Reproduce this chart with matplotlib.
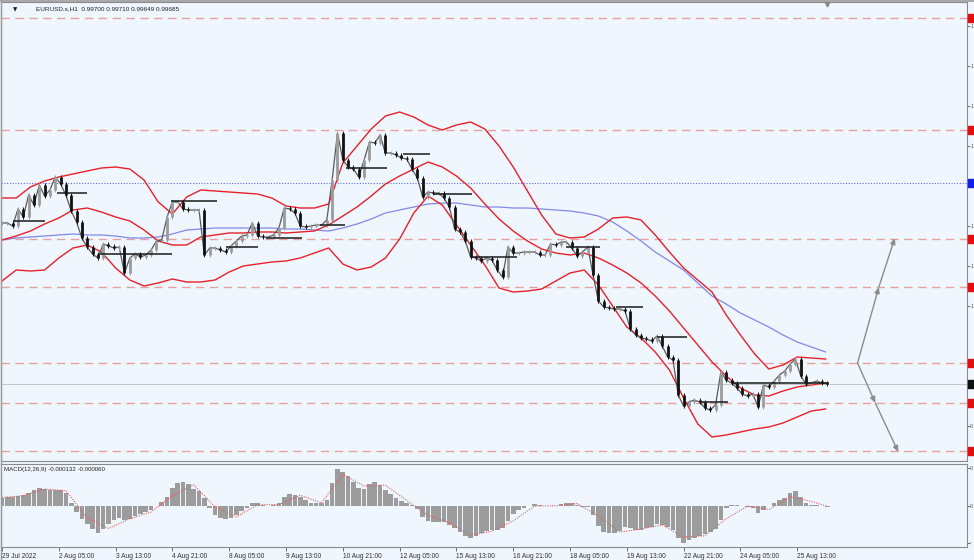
import numpy as np
import matplotlib
matplotlib.use("Agg")
import matplotlib.pyplot as plt

# ---------------- data ----------------
symbol_text = "EURUSD.s,H1  0.99700 0.99710 0.99649 0.99685"
macd_text = "MACD(12,26,9) -0.000132 -0.000060"

# close prices, one value every 3 hourly bars starting 29 Jul 2022 21:00
close = [1.02100, 1.02100, 1.02055, 1.02310, 1.02190, 1.02520, 1.02370, 1.02670, 1.02505, 1.02595,
         1.02790, 1.02685, 1.02520, 1.02280, 1.02115, 1.01875, 1.01740, 1.01635, 1.01575, 1.01785,
         1.01755, 1.01725, 1.01740, 1.01350, 1.01575, 1.01635, 1.01590, 1.01620, 1.01695, 1.01830,
         1.01845, 1.02190, 1.02415, 1.02415, 1.02310, 1.02295, 1.02295, 1.02295, 1.01620, 1.01725,
         1.01725, 1.01695, 1.01665, 1.01755, 1.01830, 1.01905, 1.01920, 1.02100, 1.01905, 1.01890,
         1.01890, 1.01920, 1.02025, 1.02325, 1.02310, 1.02250, 1.02055, 1.02040, 1.02055, 1.02070,
         1.02070, 1.02145, 1.02745, 1.03450, 1.03045, 1.02940, 1.02910, 1.02790, 1.03045, 1.03315,
         1.03300, 1.03420, 1.03150, 1.03150, 1.03120, 1.03075, 1.03060, 1.02910, 1.02775, 1.02490,
         1.02565, 1.02550, 1.02550, 1.02475, 1.02340, 1.02010, 1.01965, 1.01830, 1.01590, 1.01575,
         1.01530, 1.01575, 1.01545, 1.01395, 1.01290, 1.01740, 1.01650, 1.01650, 1.01665, 1.01665,
         1.01665, 1.01620, 1.01620, 1.01785, 1.01770, 1.01815, 1.01815, 1.01725, 1.01605, 1.01665,
         1.01740, 1.01320, 1.00930, 1.00840, 1.00825, 1.00810, 1.00810, 1.00780, 1.00510, 1.00420,
         1.00375, 1.00360, 1.00330, 1.00405, 1.00255, 1.00090, 1.00045, 0.99520, 0.99355, 0.99415,
         0.99445, 0.99415, 0.99325, 0.99295, 0.99370, 0.99865, 0.99745, 0.99700, 0.99625, 0.99535,
         0.99505, 0.99535, 0.99340, 0.99670, 0.99640, 0.99730, 0.99820, 0.99880, 0.99985, 1.00060,
         0.99805, 0.99685, 0.99700, 0.99730, 0.99700, 0.99685]

# Bollinger bands and moving average, one value every 8 hourly bars
bb_upper = [1.02475, 1.02475, 1.02640, 1.02730, 1.02790, 1.02835, 1.02880, 1.02925, 1.02940, 1.02910,
            1.02745, 1.02415, 1.02235, 1.02490, 1.02595, 1.02580, 1.02565, 1.02550, 1.02535, 1.02475,
            1.02355, 1.02325, 1.02325, 1.02385, 1.03000, 1.03255, 1.03510, 1.03705, 1.03765, 1.03690,
            1.03570, 1.03495, 1.03570, 1.03615, 1.03510, 1.03255, 1.02940, 1.02580, 1.02220, 1.01935,
            1.01875, 1.01890, 1.02010, 1.02175, 1.02190, 1.02145, 1.01920, 1.01665, 1.01425, 1.01245,
            1.01065, 1.00720, 1.00420, 1.00135, 0.99910, 0.99970, 1.00090, 1.00075, 1.00060]
bb_middle = [1.01845, 1.01905, 1.01980, 1.02085, 1.02175, 1.02295, 1.02325, 1.02265, 1.02190, 1.02130,
             1.01995, 1.01830, 1.01770, 1.01770, 1.01890, 1.01920, 1.01950, 1.01950, 1.01965, 1.01965,
             1.01950, 1.01965, 1.01980, 1.02070, 1.02205, 1.02340, 1.02505, 1.02685, 1.02805, 1.02910,
             1.03015, 1.02940, 1.02805, 1.02625, 1.02385, 1.02160, 1.01980, 1.01830, 1.01710, 1.01650,
             1.01620, 1.01650, 1.01575, 1.01470, 1.01350, 1.01200, 1.01005, 1.00780, 1.00525, 1.00270,
             1.00015, 0.99805, 0.99625, 0.99520, 0.99505, 0.99580, 0.99640, 0.99670, 0.99700]
bb_lower = [1.01230, 1.01395, 1.01380, 1.01395, 1.01575, 1.01725, 1.01770, 1.01665, 1.01425, 1.01245,
            1.01155, 1.01200, 1.01260, 1.01215, 1.01215, 1.01245, 1.01365, 1.01455, 1.01485, 1.01515,
            1.01530, 1.01575, 1.01650, 1.01725, 1.01485, 1.01395, 1.01440, 1.01575, 1.01860, 1.02250,
            1.02505, 1.02370, 1.02070, 1.01770, 1.01470, 1.01125, 1.01065, 1.01080, 1.01110, 1.01230,
            1.01350, 1.01395, 1.01170, 1.00855, 1.00540, 1.00375, 1.00165, 0.99895, 0.99475, 0.99085,
            0.98890, 0.98920, 0.98965, 0.99010, 0.99040, 0.99100, 0.99190, 0.99280, 0.99310]
ma_slow = [1.01845, 1.01875, 1.01890, 1.01905, 1.01920, 1.01935, 1.01920, 1.01920, 1.01905, 1.01875,
           1.01875, 1.01890, 1.01935, 1.01995, 1.02010, 1.02025, 1.02025, 1.02025, 1.02025, 1.02025,
           1.02010, 1.02010, 1.01995, 1.01980, 1.02025, 1.02085, 1.02160, 1.02250, 1.02295, 1.02340,
           1.02385, 1.02400, 1.02400, 1.02370, 1.02340, 1.02340, 1.02325, 1.02325, 1.02310, 1.02295,
           1.02280, 1.02250, 1.02205, 1.02115, 1.01980, 1.01830, 1.01665, 1.01530, 1.01395, 1.01200,
           1.01005, 1.00885, 1.00750, 1.00645, 1.00540, 1.00420, 1.00315, 1.00240, 1.00165]

# MACD main (histogram), one value every 3 hourly bars
macd_main = [0.00082, 0.00087, 0.00092, 0.00097, 0.00112, 0.00132, 0.00159, 0.00173, 0.00169, 0.00162,
             0.00159, 0.00162, 0.00132, 0.00027, -0.00063, -0.00128, -0.00181, -0.00233, -0.00268, -0.00233,
             -0.00183, -0.00141, -0.00118, -0.00143, -0.00133, -0.00103, -0.00085, -0.00065, -0.00038, 0.00001,
             0.00034, 0.00087, 0.00175, 0.00225, 0.00240, 0.00217, 0.00172, 0.00147, 0.00077, -0.00023,
             -0.00088, -0.00120, -0.00130, -0.00118, -0.00088, -0.00050, -0.00018, 0.00024, 0.00023, 0.00007,
             0.00002, 0.00004, 0.00027, 0.00089, 0.00117, 0.00112, 0.00087, 0.00054, 0.00032, 0.00024,
             0.00024, 0.00057, 0.00227, 0.00367, 0.00342, 0.00297, 0.00237, 0.00182, 0.00172, 0.00222,
             0.00242, 0.00212, 0.00162, 0.00117, 0.00079, 0.00052, 0.00027, 0.00012, -0.00033, -0.00108,
             -0.00148, -0.00160, -0.00160, -0.00161, -0.00188, -0.00223, -0.00263, -0.00303, -0.00320, -0.00300,
             -0.00273, -0.00253, -0.00243, -0.00243, -0.00218, -0.00153, -0.00083, -0.00041, -0.00018, -0.00003,
             0.00013, 0.00008, 0.00002, -0.00003, -0.00003, 0.00017, 0.00032, 0.00027, 0.00007, -0.00010,
             -0.00010, -0.00093, -0.00203, -0.00258, -0.00275, -0.00268, -0.00248, -0.00213, -0.00225, -0.00238,
             -0.00238, -0.00223, -0.00208, -0.00181, -0.00188, -0.00208, -0.00243, -0.00323, -0.00373, -0.00343,
             -0.00318, -0.00301, -0.00283, -0.00258, -0.00228, -0.00143, -0.00023, 0.00011, 0.00007, -0.00003,
             -0.00015, -0.00023, -0.00068, -0.00043, -0.00006, 0.00029, 0.00062, 0.00082, 0.00127, 0.00152,
             0.00087, 0.00032, 0.00009, 0.00005, -0.00001, -0.00013]
# MACD signal, sampled every 12 hourly bars (last one at the final bar)
macd_signal = [0.00082, 0.00100, 0.00167, 0.00151, -0.00124, -0.00228, -0.00131, -0.00063, 0.00099, 0.00210,
               -0.00011, -0.00112, 0.00010, 0.00011, 0.00105, 0.00027, 0.00312, 0.00197, 0.00205, 0.00053,
               -0.00096, -0.00170, -0.00295, -0.00256, -0.00151, -0.00003, -0.00001, 0.00022, -0.00102, -0.00264,
               -0.00234, -0.00192, -0.00313, -0.00301, -0.00131, -0.00004, -0.00039, 0.00090, 0.00043, -0.00006]
signal_bars = [0, 12, 24, 36, 48, 60, 72, 84, 96, 108, 120, 132, 144, 156, 168, 180, 192, 204, 216, 228,
               240, 252, 264, 276, 288, 300, 312, 324, 336, 348, 360, 372, 384, 396, 408, 420, 432, 444, 456, 465]

# short horizontal marks: start bar, end bar, price
hmark_start = [6, 31, 55, 95, 126, 149, 179, 194, 226, 243, 264, 318, 346, 369, 393, 412]
hmark_end   = [24, 48, 96, 121, 144, 169, 193, 217, 241, 265, 290, 337, 361, 386, 409, 466]
hmark_price = [1.02130, 1.02550, 1.01635, 1.02430, 1.01740, 1.01875, 1.02070, 1.02925, 1.03135, 1.02535,
               1.01590, 1.01740, 1.00840, 1.00390, 0.99415, 0.99700]

# horizontal levels
red_levels = [1.05175, 1.03495, 1.01860, 1.01140, 1.00000, 0.99400, 0.98680]
blue_level = 1.02700
last_price = 0.99685

# projected arrows (bar, price)
arrow_start = (482, 1.00000)
arrow_up_mid = (494, 1.01140)
arrow_up_end = (503, 1.01875)
arrow_dn_mid = (492, 0.99400)
arrow_dn_end = (505, 0.98665)

# time axis labels every 32 bars
time_labels = ["29 Jul 2022", "2 Aug 05:00", "3 Aug 13:00", "4 Aug 21:00", "8 Aug 05:00",
               "9 Aug 13:00", "10 Aug 21:00", "12 Aug 05:00", "15 Aug 13:00", "16 Aug 21:00",
               "18 Aug 05:00", "19 Aug 13:00", "22 Aug 21:00", "24 Aug 05:00", "25 Aug 13:00"]

# price / MACD scale ticks (only their first sign shows at the window edge)
price_ticks = [1.0505, 1.0445, 1.0385, 1.0325, 1.0265, 1.0205, 1.0145, 1.0085, 0.9965, 0.9905]
macd_ticks = [0.0038, 0.0, -0.0037]

# ---------------- drawing ----------------
W, H = 974, 560
BG = "#f0f6fd"
fig = plt.figure(figsize=(W / 100, H / 100), dpi=100, facecolor=BG)
plt.rcParams["font.family"] = ["Liberation Sans", "DejaVu Sans"]

def box(x0, y0, x1, y1):
    return [x0 / W, 1 - y1 / H, (x1 - x0) / W, (y1 - y0) / H]

ax = fig.add_axes(box(1, 2, 967, 461))
axm = fig.add_axes(box(1, 464, 967, 547), sharex=ax)
for a in (ax, axm):
    a.set_facecolor(BG)
    for s in a.spines.values():
        s.set_color("#8a8a8a")
        s.set_linewidth(0.8)
    a.yaxis.tick_right()
    a.tick_params(axis="y", direction="out", length=2, width=0.6, colors="#555555",
                  labelsize=3.8, pad=0.3)

ax.set_xlim(-0.563, 543.66)
ax.set_ylim(0.98530, 1.05415)
axm.set_ylim(-0.00413, 0.00417)

bar_index = np.arange(len(close)) * 3
band_index = np.arange(len(bb_upper)) * 8

# horizontal levels
for lv in red_levels:
    ax.axhline(lv, color="#e8a0a0", lw=1.0, dashes=(6, 4), zorder=1)
ax.axhline(blue_level, color="#6070e0", lw=0.8, dashes=(1, 1.5), zorder=1)
ax.axhline(last_price, color="#bcbcbc", lw=0.6, zorder=1)

# bands
ax.plot(band_index, ma_slow, color="#8088e8", lw=0.9, zorder=2)
for band in (bb_upper, bb_middle, bb_lower):
    ax.plot(band_index, band, color="#e8202a", lw=1.0, zorder=3)

# candles
ax.plot(bar_index, close, color="#5a5a5a", lw=0.9, zorder=4)
opens = [close[0]] + close[:-1]
for i, (o, c) in enumerate(zip(opens, close)):
    col = "#111111" if c < o else "#9c9c9c"
    lo, hi = min(o, c), max(o, c)
    ax.vlines(bar_index[i], lo - 0.00025, hi + 0.00025, color=col, lw=0.7, zorder=4)
    ax.vlines(bar_index[i], lo - 0.00004, hi + 0.00004, color=col, lw=2.0, zorder=4)

# horizontal marks
ax.hlines(hmark_price, hmark_start, hmark_end, color="#1a1a1a", lw=1.1, zorder=5)

# arrows
def arr(p0, p1):
    ax.annotate("", xy=p1, xytext=p0,
                arrowprops=dict(arrowstyle="-|>,head_length=0.35,head_width=0.15",
                                color="#8c8c8c", lw=1.0, shrinkA=0, shrinkB=0), zorder=6)
arr(arrow_start, arrow_up_mid)
arr(arrow_up_mid, arrow_up_end)
arr(arrow_start, arrow_dn_mid)
arr(arrow_dn_mid, arrow_dn_end)

# scale ticks: only the first sign of each label fits at the window edge
ax.set_yticks(price_ticks)
ax.set_yticklabels([("%.5f" % t)[0] for t in price_ticks])
axm.set_yticks(macd_ticks)
axm.set_yticklabels([("%.6f" % t)[0] for t in macd_ticks])

# right-side level markers
trans = matplotlib.transforms.blended_transform_factory(ax.transAxes, ax.transData)
for lv in red_levels:
    ax.add_patch(plt.Rectangle((1.001, lv - 0.00055), 0.02, 0.0011, transform=trans,
                               color="#e01010", clip_on=False, zorder=7))
ax.add_patch(plt.Rectangle((1.001, blue_level - 0.00055), 0.02, 0.0011, transform=trans,
                           color="#1020e0", clip_on=False, zorder=7))
ax.add_patch(plt.Rectangle((1.001, last_price - 0.00055), 0.02, 0.0011, transform=trans,
                           color="#111111", clip_on=False, zorder=7))

# MACD
axm.bar(bar_index, macd_main, width=2.6, color="#9c9c9c", edgecolor="none", zorder=2)
axm.plot(signal_bars, macd_signal, color="#e06060", lw=0.8, dashes=(1, 1.2), zorder=3)

# time axis
tick_pos = np.arange(len(time_labels)) * 32
axm.set_xticks(tick_pos)
axm.set_xticklabels(time_labels, fontsize=4.8, color="#333333", ha="left")
axm.tick_params(axis="x", direction="out", length=3, width=0.6, colors="#555555", pad=1)
for lab in axm.get_xticklabels():
    lab.set_color("#333333")
plt.setp(ax.get_xticklabels(), visible=False)
ax.tick_params(axis="x", length=0)

# texts
ax.text(0.012, 0.988, "\u25BC", transform=ax.transAxes, fontsize=4, va="top", ha="left",
        color="#222222", family=["DejaVu Sans"])
ax.text(0.036, 0.991, symbol_text, transform=ax.transAxes, fontsize=4.6, va="top", ha="left",
        color="#222222")
axm.text(0.003, 0.96, macd_text, transform=axm.transAxes, fontsize=4.4, va="top", ha="left",
         color="#222222")

# window frame and the small shift marker at the top
fig.add_artist(matplotlib.lines.Line2D([0, 1], [1 - 1 / H, 1 - 1 / H], color="#9a9a9a", lw=1.2))
fig.add_artist(matplotlib.lines.Line2D([1 / W, 1 / W], [0, 1], color="#9a9a9a", lw=1.0))
ax.plot([465], [1.05390], marker="v", markersize=3.5, color="#8a8a8a", clip_on=False, zorder=8)

fig.savefig("out.png", dpi=100, facecolor=BG)
